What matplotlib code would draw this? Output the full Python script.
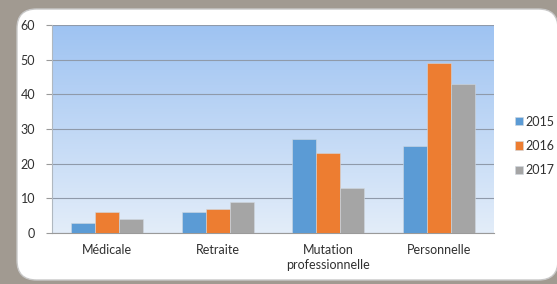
import numpy as np
import matplotlib
matplotlib.use("Agg")
import matplotlib.pyplot as plt
from matplotlib.patches import FancyBboxPatch
from matplotlib.colors import LinearSegmentedColormap

categories = ["Médicale", "Retraite", "Mutation\nprofessionnelle", "Personnelle"]
series_names = ["2015", "2016", "2017"]
v2015 = [3, 6, 27, 25]
v2016 = [6, 7, 23, 49]
v2017 = [4, 9, 13, 43]
yticks = [0, 10, 20, 30, 40, 50, 60]

colors = ["#5b9bd5", "#ed7d31", "#a5a5a5"]
plt.rcParams['font.family'] = ['Lato', 'DejaVu Sans']

W, H = 557, 284
fig = plt.figure(figsize=(W / 100, H / 100), dpi=100)
fig.patch.set_facecolor("#a19a91")

# white rounded panel
panel = FancyBboxPatch((17 / W, 4 / H), (W - 16) / W, (H - 13) / H,
                       boxstyle="round,pad=0,rounding_size=0.035",
                       transform=fig.transFigure, facecolor="white",
                       edgecolor="#c8c8c8", linewidth=1.0, mutation_aspect=W / H,
                       zorder=-10)
fig.patches.append(panel)

ax = fig.add_axes([52 / W, (H - 233) / H, (494 - 52) / W, (233 - 25) / H])
ax.set_facecolor("none")
ax.set_zorder(5)

# gradient background
cmap = LinearSegmentedColormap.from_list("g", ["#e3edf9", "#9ec3f2"])
grad = np.linspace(0, 1, 256).reshape(-1, 1)
ax.imshow(grad, aspect="auto", cmap=cmap, origin="lower",
          extent=[-0.5, len(categories) - 0.5, 0, 60], zorder=0)

x = np.arange(len(categories))
bw = 0.217
for i, (name, vals) in enumerate(zip(series_names, [v2015, v2016, v2017])):
    ax.bar(x + (i - 1) * bw, vals, width=bw, color=colors[i], label=name,
           zorder=3, edgecolor="#d0d8e0", linewidth=0.4)

fs = 9
ax.set_xlim(-0.5, len(categories) - 0.5)
ax.set_ylim(0, 60)
ax.set_yticks(yticks)
ax.set_yticklabels([str(t) for t in yticks], fontsize=fs, color="#303030")
ax.set_xticks(x)
ax.set_xticklabels(categories, fontsize=fs, color="#303030", linespacing=1.25)
ax.tick_params(axis="y", length=4, color="#9a9a9a", width=0.8, pad=8)
ax.tick_params(axis="x", length=0, pad=8)
ax.grid(axis="y", color="#8f9aaa", linewidth=0.8, zorder=1)
ax.set_axisbelow(True)
for s in ["top", "right"]:
    ax.spines[s].set_visible(False)
ax.spines["left"].set_color("#b0b8c0")
ax.spines["left"].set_linewidth(0.8)
ax.spines["bottom"].set_color("#9a9a9a")
ax.spines["bottom"].set_linewidth(0.8)

leg = ax.legend(loc="center left", bbox_to_anchor=(515 / W, 1 - 146 / H),
                bbox_transform=fig.transFigure, frameon=False, borderpad=0,
                borderaxespad=0, fontsize=fs, handlelength=0.66,
                handleheight=0.66, handletextpad=0.2, labelspacing=1.0)
for t in leg.get_texts():
    t.set_color("#303030")

fig.savefig("out.png", dpi=100, facecolor=fig.get_facecolor())
